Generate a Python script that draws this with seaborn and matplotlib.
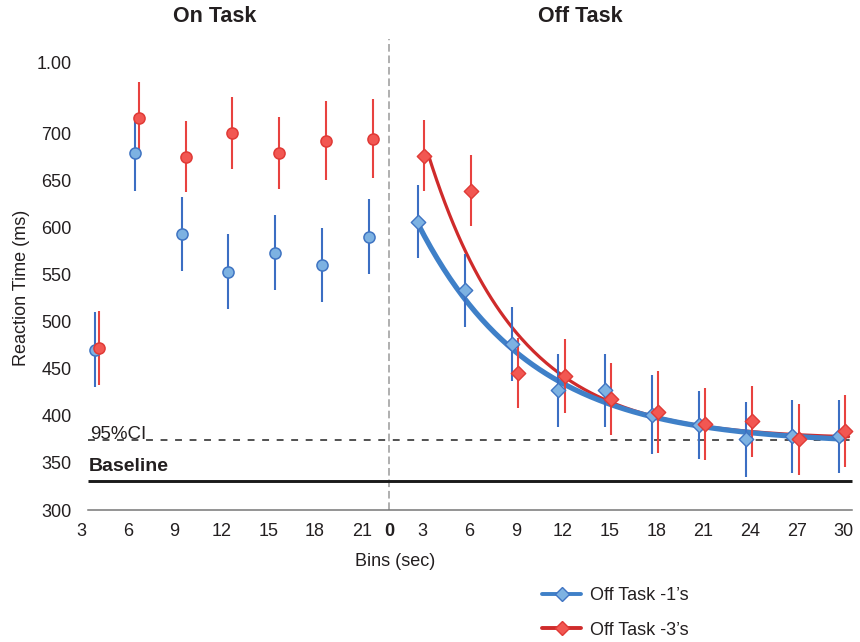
import numpy as np
import pandas as pd
import matplotlib
matplotlib.use("Agg")
import matplotlib.pyplot as plt
from matplotlib.lines import Line2D
import seaborn as sns

# ---- data -----------------------------------------------------------------
on_bins = np.array([3, 6, 9, 12, 15, 18, 21])
on_rt_1 = [470, 679, 593, 553, 573, 560, 590]
on_ci_1 = [40, 40, 39.5, 39.5, 39.5, 39.5, 39.5]
on_rt_3 = [472, 716, 675, 700, 679, 692, 694]
on_ci_3 = [39, 38, 38, 38, 38, 42, 42]

off_bins = np.array([3, 6, 9, 12, 15, 18, 21, 24, 27, 30])
off_rt_1 = [606, 533, 476, 427, 427, 401, 390, 375, 378, 378]
off_ci_1 = [39, 39, 39, 39, 39, 42, 36, 39.5, 39, 39]
off_rt_3 = [676, 639, 445, 442, 418, 404, 391, 394, 375, 384]
off_ci_3 = [38, 38, 37, 39, 38, 44, 38, 38, 38, 38]

# exponential recovery fits: rt = floor + amp * exp(-rate * t)
fit_1 = dict(floor=370, amp=340, rate=0.139, t_start=2.7, t_end=29.9)
fit_3 = dict(floor=375, amp=542, rate=0.174, t_start=3.35, t_end=30.3)

baseline_rt = 331
ci95_rt = 374

y_ticks = [300, 350, 400, 450, 500, 550, 600, 650, 700]
y_top_tick_label = "1.00"

series_1 = "Off Task -1\u2019s"
series_3 = "Off Task -3\u2019s"

# ---- styling --------------------------------------------------------------
sns.set_theme(style="white")
plt.rcParams["font.family"] = ["Liberation Sans", "DejaVu Sans"]
TXT = "#231f20"

BLUE_FACE, BLUE_EDGE, BLUE_BAR, BLUE_FIT = "#7db2e2", "#3f74c2", "#3b6ec3", "#3f80c8"
RED_FACE, RED_EDGE, RED_BAR, RED_FIT = "#f25752", "#e03a36", "#e8423f", "#cf2b2b"

# the off-task block sits to the right of the on-task block on one axis
OFF_SHIFT = 21.9
DIVIDER = 22.74

fig = plt.figure(figsize=(8.6, 6.42), dpi=100)
ax = fig.add_axes([0.0906, 0.2056, 0.907, 0.734])

on_pos = on_bins + 0.45
on_pos = on_pos + np.where(on_bins == on_bins.min(), 0.45, 0.0)
off_pos = off_bins + OFF_SHIFT

df = pd.concat([
    pd.DataFrame({"pos": on_pos, "rt": on_rt_1, "ci": on_ci_1, "series": series_1, "phase": "on"}),
    pd.DataFrame({"pos": on_pos + 0.25, "rt": on_rt_3, "ci": on_ci_3, "series": series_3, "phase": "on"}),
    pd.DataFrame({"pos": off_pos - 0.3, "rt": off_rt_1, "ci": off_ci_1, "series": series_1, "phase": "off"}),
    pd.DataFrame({"pos": off_pos + 0.1, "rt": off_rt_3, "ci": off_ci_3, "series": series_3, "phase": "off"}),
], ignore_index=True)

# reference lines
ax.vlines(DIVIDER, 300, 800, colors="#9a9a9a", linewidth=1.1,
          linestyles=(0, (5, 2.5)), zorder=1)
ax.hlines(ci95_rt, 3.45, 52.3, colors="#222222", linewidth=1.1,
          linestyles=(0, (4.5, 5)), zorder=1)
ax.hlines(baseline_rt, 3.45, 52.4, colors="#1a1a1a", linewidth=2.1, zorder=1)
ax.text(3.58, ci95_rt + 6.5, "95%CI", fontsize=13.5, color=TXT, va="center", ha="left")
ax.text(3.47, baseline_rt + 15, "Baseline", fontsize=14, fontweight="bold",
        color=TXT, va="center", ha="left")

# fitted recovery curves
for fit, color, lw, z in [(fit_3, RED_FIT, 2.3, 2), (fit_1, BLUE_FIT, 3.8, 2.5)]:
    t = np.linspace(fit["t_start"], fit["t_end"], 200)
    curve = pd.DataFrame({"pos": t + OFF_SHIFT,
                          "rt": fit["floor"] + fit["amp"] * np.exp(-fit["rate"] * t)})
    sns.lineplot(data=curve, x="pos", y="rt", color=color, linewidth=lw,
                 ax=ax, zorder=z, legend=False)

# confidence bars
for name, color in [(series_1, BLUE_BAR), (series_3, RED_BAR)]:
    d = df[df["series"] == name]
    ax.vlines(d["pos"], d["rt"] - d["ci"], d["rt"] + d["ci"],
              colors=color, linewidth=1.5, zorder=3)

# bin means
for name, face, edge, z in [(series_1, BLUE_FACE, BLUE_EDGE, 4),
                            (series_3, RED_FACE, RED_EDGE, 5)]:
    d_on = df[(df["series"] == name) & (df["phase"] == "on")]
    d_off = df[(df["series"] == name) & (df["phase"] == "off")]
    sns.scatterplot(data=d_on, x="pos", y="rt", marker="o", s=64, color=face,
                    edgecolor=edge, linewidth=1.1, ax=ax, zorder=z, legend=False)
    sns.scatterplot(data=d_off, x="pos", y="rt", marker="D", s=54, color=face,
                    edgecolor=edge, linewidth=1.0, ax=ax, zorder=z, legend=False)

# axes
ax.set_xlim(2.8, 52.8)
ax.set_ylim(300, 800)
for side in ["left", "top", "right"]:
    ax.spines[side].set_visible(False)
ax.spines["bottom"].set_color("#777777")
ax.spines["bottom"].set_linewidth(1.1)
ax.spines["bottom"].set_bounds(3.45, 52.4)

xt_pos = list(on_bins) + [DIVIDER] + list(off_bins + OFF_SHIFT)
xt_lab = [str(b) for b in on_bins] + ["0"] + [str(b) for b in off_bins]
ax.set_xticks(xt_pos)
ax.set_xticklabels(xt_lab)
for lab in ax.get_xticklabels():
    if lab.get_text() == "0":
        lab.set_fontweight("bold")
ax.set_yticks(y_ticks + [775])
ax.set_yticklabels([str(v) for v in y_ticks] + [y_top_tick_label])
ax.tick_params(axis="both", length=0, labelsize=13, colors=TXT)
ax.tick_params(axis="x", pad=9.5)
ax.tick_params(axis="y", pad=4.5)

ax.set_xlabel("Bins (sec)", fontsize=13, color=TXT)
ax.xaxis.label.set_va("center")
ax.xaxis.set_label_coords(0.4065, -0.1097)
ax.set_ylabel("Reaction Time (ms)", fontsize=13, color=TXT)
ax.yaxis.label.set_va("center")
ax.yaxis.set_label_coords(-0.072, 0.471)

fig.text(214.5 / 860, 1 - 17 / 642, "On Task", fontsize=15.5, fontweight="bold",
         color=TXT, ha="center", va="center")
fig.text(580 / 860, 1 - 17 / 642, "Off Task", fontsize=15.5, fontweight="bold",
         color=TXT, ha="center", va="center")

handles = [
    Line2D([], [], color=BLUE_FIT, linewidth=2.8, marker="D", markersize=7.2,
           markerfacecolor=BLUE_FACE, markeredgecolor=BLUE_EDGE),
    Line2D([], [], color=RED_FIT, linewidth=2.8, marker="D", markersize=7.2,
           markerfacecolor=RED_FACE, markeredgecolor=RED_EDGE),
]
fig.legend(handles, [series_1, series_3], loc="upper left",
           bbox_to_anchor=(541.7 / 860, 1 - 587 / 642), frameon=False,
           fontsize=13, handlelength=2.2, handletextpad=0.45,
           labelspacing=0.98, borderpad=0, borderaxespad=0, labelcolor=TXT)

fig.savefig("out.png", dpi=100)
